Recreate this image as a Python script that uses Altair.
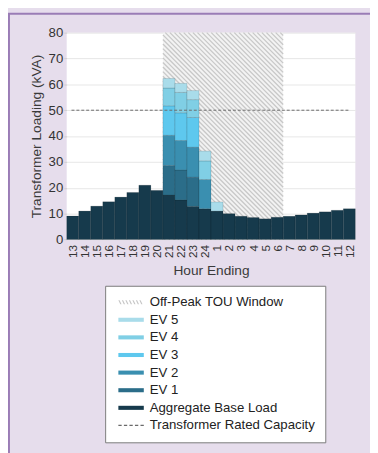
import altair as alt
import pandas as pd
import numpy as np

# ---------------- data ----------------
hours = ["13", "14", "15", "16", "17", "18", "19", "20", "21", "22", "23", "24",
         "1", "2", "3", "4", "5", "6", "7", "8", "9", "10", "11", "12"]
base = [9.1, 11.0, 12.9, 14.6, 16.4, 18.2, 21.0, 19.0, 17.2, 15.3, 12.8, 11.9,
        11.0, 10.0, 9.0, 8.5, 8.0, 8.6, 9.0, 9.5, 10.2, 10.7, 11.3, 11.9]
ev1 = [0, 0, 0, 0, 0, 0, 0, 0, 11.4, 11.6, 11.3, 0, 0, 0, 0, 0, 0, 0, 0, 0, 0, 0, 0, 0]
ev2 = [0, 0, 0, 0, 0, 0, 0, 0, 11.7, 11.4, 11.6, 11.3, 0, 0, 0, 0, 0, 0, 0, 0, 0, 0, 0, 0]
ev3 = [0, 0, 0, 0, 0, 0, 0, 0, 11.4, 10.7, 11.5, 0, 0, 0, 0, 0, 0, 0, 0, 0, 0, 0, 0, 0]
ev4 = [0, 0, 0, 0, 0, 0, 0, 0, 6.9, 7.9, 6.9, 7.2, 0, 0, 0, 0, 0, 0, 0, 0, 0, 0, 0, 0]
ev5 = [0, 0, 0, 0, 0, 0, 0, 0, 3.7, 3.5, 3.5, 3.8, 3.5, 0, 0, 0, 0, 0, 0, 0, 0, 0, 0, 0]
window_first = "21"
window_last = "6"
capacity = 50
y_max = 80

stack_names = ["Aggregate Base Load", "EV 1", "EV 2", "EV 3", "EV 4", "EV 5"]
stack_vals = [base, ev1, ev2, ev3, ev4, ev5]
stack_colors = ["#163a4c", "#2b6d89", "#3a8fb0", "#5ec8ee", "#80cfe5", "#a9dcea"]

legend_names = ["Off-Peak TOU Window", "EV 5", "EV 4", "EV 3", "EV 2", "EV 1",
                "Aggregate Base Load", "Transformer Rated Capacity"]
legend_colors = ["#c6c6c6", "#a9dcea", "#80cfe5", "#5ec8ee", "#3a8fb0", "#2b6d89",
                 "#163a4c", "#6a6a6a"]

# ---------------- geometry ----------------
W, H = 295, 211.4
PAD = {"left": 60, "top": 20.3, "right": 15, "bottom": 213.3}

rows = []
for i, h in enumerate(hours):
    cum = 0.0
    for name, vals in zip(stack_names, stack_vals):
        v = vals[i]
        if v > 0:
            rows.append({"x": i, "x2": i + 1, "y": cum, "y2": cum + v, "series": name})
            cum += v
bars_df = pd.DataFrame(rows)

w0 = hours.index(window_first)
w1 = hours.index(window_last) + 1
win_df = pd.DataFrame([{"x": w0, "x2": w1, "y": 0, "y2": y_max}])

# diagonal hatch lines clipped to the window (pixel space -> data space)
kx = W / len(hours)
ky = H / y_max
X0, X1 = w0 * kx, w1 * kx
step = 4.7
hatch = []
c = X0 + step / 2
while c < X1 + H:
    xa = max(X0, c - H)
    xb = min(X1, c)
    if xa < xb:
        hatch.append({"x": xa / kx, "y": (c - xa) / ky, "x2": xb / kx, "y2": (c - xb) / ky})
    c += step
hatch_df = pd.DataFrame(hatch)

cap_df = pd.DataFrame([{"x": 0.4, "x2": 23.5, "y": capacity}])

# legend symbol paths (unit = 6.5 px)
SX = -0.5

def bar_path():
    return f"M{SX},-0.32H{SX+4}V0.32H{SX}Z"

def hatch_path():
    parts = []
    xx = SX
    while xx < SX + 3.8:
        parts.append(f"M{xx:.2f},-0.32L{xx+0.2:.2f},-0.32L{xx+0.5:.2f},0.32L{xx+0.3:.2f},0.32Z")
        xx += 0.55
    return "".join(parts)

def dash_path():
    parts = []
    xx = SX
    for _ in range(5):
        parts.append(f"M{xx:.2f},-0.09H{xx+0.52:.2f}V0.09H{xx:.2f}Z")
        xx += 0.87
    return "".join(parts)

legend_shapes = [hatch_path()] + [bar_path()] * 6 + [dash_path()]
leg_df = pd.DataFrame({"series": legend_names, "px": [None] * 8, "py": [None] * 8})

FONT = "Liberation Sans"

xscale = alt.Scale(domain=[0, len(hours)], nice=False, zero=False)
yscale = alt.Scale(domain=[0, y_max], nice=False)
label_expr = "[" + ",".join(f"'{h}'" for h in hours) + "][floor(datum.value)]"
xaxis = alt.Axis(values=[i + 0.5 for i in range(len(hours))], labelExpr=label_expr,
                 labelAngle=-90, labelFontSize=12, labelPadding=5, ticks=False,
                 labelOverlap=False, labelBound=False,
                 domain=False, grid=False, title="Hour Ending", titlePadding=6)
yaxis = alt.Axis(values=list(range(0, y_max + 1, 10)), labelFontSize=13.5, tickSize=3,
                 tickColor="#cfcfcf", labelPadding=1, domain=False, grid=True,
                 gridColor="#e6e6e6", title="Transformer Loading (kVA)", titlePadding=5)

win_bg = alt.Chart(win_df).mark_rect(fill="#f3f3f3").encode(
    x=alt.X("x:Q", scale=xscale, axis=xaxis), x2="x2:Q",
    y=alt.Y("y:Q", scale=yscale, axis=yaxis), y2="y2:Q")

hatch_layer = alt.Chart(hatch_df).mark_rule(color="#c8c8c8", strokeWidth=1.3).encode(
    x=alt.X("x:Q", scale=xscale, axis=xaxis), x2="x2:Q",
    y=alt.Y("y:Q", scale=yscale, axis=yaxis), y2="y2:Q")

bars = alt.Chart(bars_df).mark_rect(stroke="#000000", strokeOpacity=0.18, strokeWidth=0.7).encode(
    x=alt.X("x:Q", scale=xscale, axis=xaxis), x2="x2:Q",
    y=alt.Y("y:Q", scale=yscale, axis=yaxis), y2="y2:Q",
    fill=alt.Fill("series:N", scale=alt.Scale(domain=stack_names, range=stack_colors), legend=None))

cap = alt.Chart(cap_df).mark_rule(color="#6a6a6a", strokeDash=[3, 2], strokeWidth=1).encode(
    x=alt.X("x:Q", scale=xscale, axis=xaxis), x2="x2:Q",
    y=alt.Y("y:Q", scale=yscale, axis=yaxis))

leg = alt.Legend(title=None, orient="none", legendX=39.3, legendY=258.7,
                 strokeColor="#7a7a7a", fillColor="white", padding=10,
                 symbolSize=169, symbolStrokeWidth=0, labelOffset=22,
                 labelFont=FONT, labelFontSize=13.5, labelColor="#222222",
                 rowPadding=3, labelLimit=400, symbolOpacity=1)

legend_layer = alt.Chart(leg_df).mark_point(filled=True, opacity=1, strokeWidth=0).encode(
    x=alt.X("px:Q", scale=xscale, axis=xaxis),
    y=alt.Y("py:Q", scale=yscale, axis=yaxis),
    color=alt.Color("series:N", scale=alt.Scale(domain=legend_names, range=legend_colors), legend=leg),
    shape=alt.Shape("series:N", scale=alt.Scale(domain=legend_names, range=legend_shapes), legend=leg))

border_v = alt.Chart(win_df).mark_rule(color="#9a7cb6", strokeWidth=2).encode(
    x=alt.value(-59), y=alt.value(-19.3), y2=alt.value(430))
border_h = alt.Chart(win_df).mark_rule(color="#9a7cb6", strokeWidth=2).encode(
    x=alt.value(-60), x2=alt.value(320), y=alt.value(-19.3))

chart = alt.layer(win_bg, hatch_layer, bars, cap, legend_layer, border_v, border_h).properties(
    width=W, height=H, padding=PAD, autosize=alt.AutoSizeParams(type="none"),
    background="#e6ddec"
).configure_view(stroke=None, fill="white").configure_axis(
    labelFont=FONT, titleFont=FONT, labelColor="#333333", titleColor="#3a3a3a",
    titleFontSize=14, titleFontWeight="normal"
)

chart.save("out.html", embed_options={"renderer": "svg", "actions": False})
